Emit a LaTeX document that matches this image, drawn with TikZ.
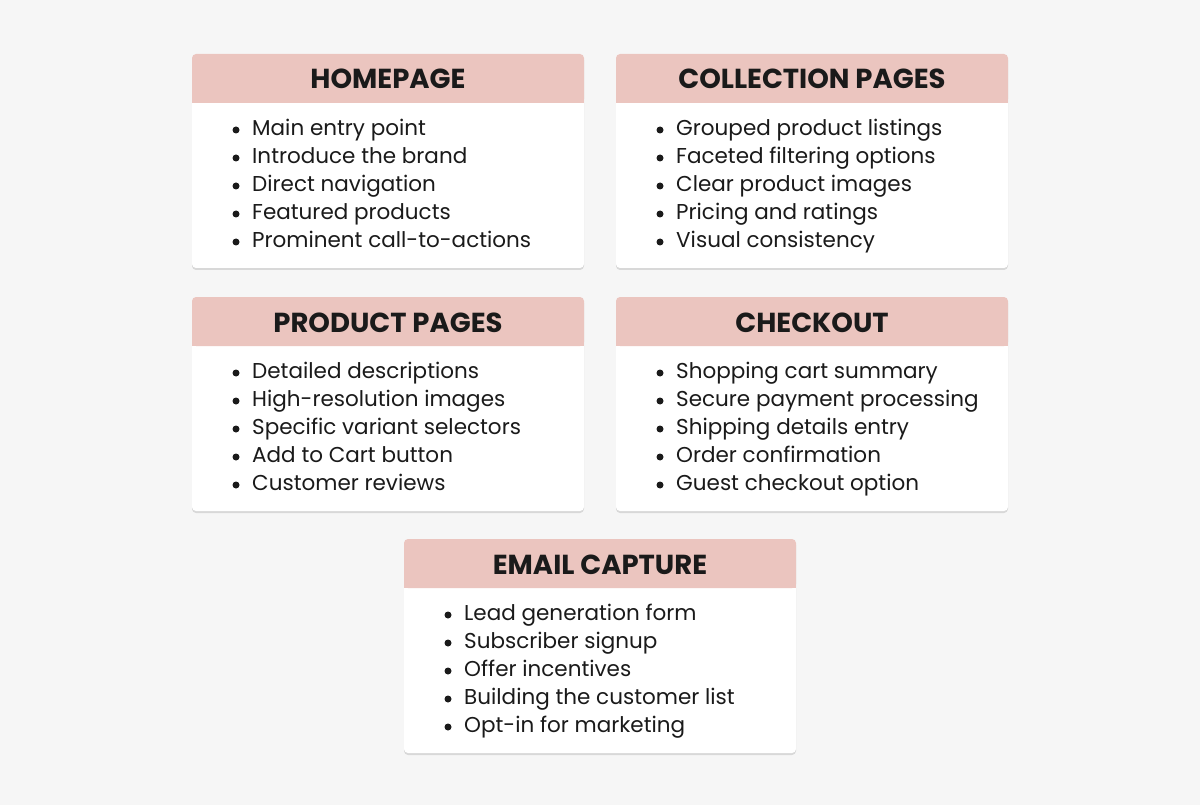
\documentclass[tikz,border=0pt]{standalone}
\usepackage{fontspec}
\setmainfont{Poppins}
\usetikzlibrary{shadows}
\definecolor{bg}{HTML}{F6F6F6}
\definecolor{hdr}{HTML}{EBC5BF}
\definecolor{txt}{HTML}{1A1A1A}
\tikzset{
 card/.style={fill=white,rounded corners=4pt,drop shadow={shadow xshift=0pt,shadow yshift=-2pt,opacity=0.12,fill=black}},
 hd/.style={font=\fontsize{27.5}{30}\selectfont\bfseries,text=txt,anchor=center,text height=19pt,text depth=1pt},
 it/.style={font=\fontsize{21.5}{25}\selectfont,text=txt,anchor=west,text height=15pt,text depth=4pt,inner sep=0pt},
 bul/.style={fill=txt,circle,inner sep=0pt,minimum size=7pt},
}
\newcommand{\itm}[4]{% x y name text
 \node[bul] (#3d) at (#1+44,#2) {};
 \node[it] (#3) at (#1+60,#2) {#4};
}
\newcommand{\card}[9]{%
 \fill[card] (#1,#2) rectangle ++(392,-214);
 \fill[hdr,rounded corners=4pt] (#1,#2) rectangle ++(392,-49);
 \fill[hdr] (#1,#2-25) rectangle ++(392,-24);
 \node[hd] (#3) at (#1+196,#2-26) {#4};
 \itm{#1}{#2-76}{#3a}{#5}
 \itm{#1}{#2-104}{#3b}{#6}
 \itm{#1}{#2-132}{#3c}{#7}
 \itm{#1}{#2-160}{#3e}{#8}
 \itm{#1}{#2-188}{#3f}{#9}
}
\begin{document}
\begin{tikzpicture}[x=1pt,y=1pt]
\fill[bg] (0,0) rectangle (1200,-805);
\useasboundingbox (0,0) rectangle (1200,-805);
\card{192}{-54}{h}{HOMEPAGE}{Main entry point}{Introduce the brand}{Direct navigation}{Featured products}{Prominent call-to-actions}
\card{616}{-54}{c}{COLLECTION PAGES}{Grouped product listings}{Faceted filtering options}{Clear product images}{Pricing and ratings}{Visual consistency}
\card{192}{-297}{p}{PRODUCT PAGES}{Detailed descriptions}{High-resolution images}{Specific variant selectors}{Add to Cart button}{Customer reviews}
\card{616}{-297}{k}{CHECKOUT}{Shopping cart summary}{Secure payment processing}{Shipping details entry}{Order confirmation}{Guest checkout option}
\card{404}{-539}{e}{EMAIL CAPTURE}{Lead generation form}{Subscriber signup}{Offer incentives}{Building the customer list}{Opt-in for marketing}
\end{tikzpicture}
\end{document}
